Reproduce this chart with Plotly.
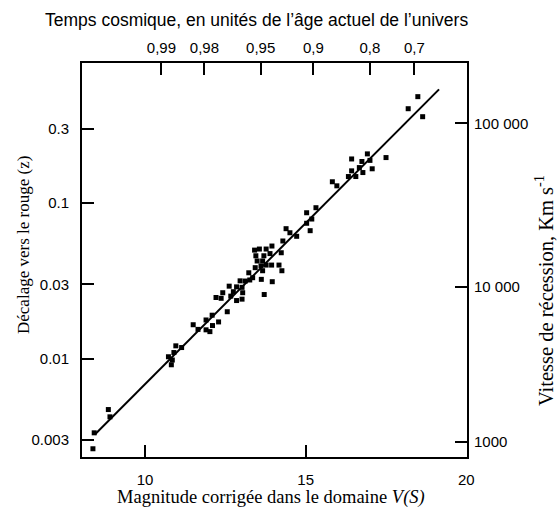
import plotly.graph_objects as go

# ---- data ----
magnitude = [18.49, 18.19, 18.64, 17.50, 16.92, 16.43, 16.75, 17.00, 16.43, 16.67,
             17.07, 16.78, 16.33, 16.56, 15.83, 15.97, 15.32, 15.03, 15.19, 15.03,
             15.14, 14.39, 14.51, 14.72, 14.29,
             13.41, 13.56, 13.77, 13.95, 13.45, 13.70, 13.89, 14.24, 13.49, 13.66,
             13.43, 13.61, 13.77, 13.94, 14.17, 14.26, 13.66, 13.23, 13.35, 13.62,
             13.26, 13.12, 12.96, 13.96, 12.85, 13.02, 12.62, 12.75, 12.42, 13.04,
             12.21, 12.37, 12.67, 12.85, 13.02, 13.71,
             12.56, 12.09, 11.90, 12.29, 11.50, 11.65, 12.10, 11.90, 12.02, 11.14,
             10.96, 10.90, 10.73, 10.85, 10.82, 8.91, 8.86, 8.42, 8.38]
redshift = [0.483, 0.404, 0.359, 0.196, 0.207, 0.192, 0.185, 0.188, 0.161, 0.169,
            0.166, 0.157, 0.148, 0.148, 0.137, 0.129, 0.0933, 0.0866, 0.0789, 0.0741,
            0.0664, 0.0684, 0.0644, 0.0611, 0.0570,
            0.0498, 0.0506, 0.0506, 0.0529, 0.0458, 0.0458, 0.0473, 0.0479, 0.0424, 0.0424,
            0.0384, 0.0394, 0.0399, 0.0399, 0.0399, 0.0367, 0.0367, 0.0356, 0.0331, 0.0323,
            0.0320, 0.0315, 0.0316, 0.0312, 0.0289, 0.0287, 0.0292, 0.0269, 0.0265, 0.0265,
            0.0247, 0.0244, 0.0252, 0.0236, 0.0241, 0.0258,
            0.0200, 0.0190, 0.0177, 0.0172, 0.0165, 0.0154, 0.0163, 0.0153, 0.0149, 0.01177,
            0.01207, 0.01093, 0.01027, 0.00978, 0.00912, 0.00422, 0.00470, 0.00333, 0.00263]

fit_magnitude = [8.44, 19.15]
fit_redshift = [0.00325, 0.538]

bottom_ticks = [10, 15, 20]
left_tick_values = [0.003, 0.01, 0.03, 0.1, 0.3]
left_tick_labels = ["0.003", "0.01", "0.03", "0.1", "0.3"]
top_tick_positions = [10.51, 11.85, 13.60, 15.24, 17.00, 18.38]
top_tick_labels = ["0,99", "0,98", "0,95", "0,9", "0,8", "0,7"]
right_tick_positions = [0.3255, 0.02894, 0.002917]
right_tick_labels = ["100 000", "10 000", "1000"]

x_range = [8.04, 20.02]
y_range_log = [-2.633, -0.0997]

# ---- figure ----
SANS = "Liberation Sans, Arial, sans-serif"
SERIF = "Liberation Serif, Times New Roman, serif"

fig = go.Figure()
fig.add_trace(go.Scatter(x=fit_magnitude, y=fit_redshift, mode="lines",
                         line=dict(color="black", width=2), showlegend=False,
                         hoverinfo="skip"))
fig.add_trace(go.Scatter(x=magnitude, y=redshift, mode="markers",
                         marker=dict(symbol="square", size=5, color="black"),
                         showlegend=False))
# invisible trace anchoring the secondary axes
fig.add_trace(go.Scatter(x=fit_magnitude, y=fit_redshift, xaxis="x2", yaxis="y2",
                         mode="markers", marker=dict(opacity=0), showlegend=False,
                         hoverinfo="skip"))

axis_common = dict(showgrid=False, zeroline=False, ticks="inside", ticklen=12,
                   tickwidth=2, tickcolor="black", automargin=False,
                   tickfont=dict(family=SANS, size=15, color="black"))

fig.update_layout(
    width=557, height=510,
    margin=dict(l=82, r=90, t=63, b=53),
    paper_bgcolor="white", plot_bgcolor="white",
    xaxis=dict(range=x_range, tickvals=bottom_ticks, showline=True, linewidth=2,
               linecolor="black", mirror=True, ticklabelstandoff=8, **axis_common),
    yaxis=dict(type="log", range=y_range_log, tickvals=left_tick_values,
               ticktext=left_tick_labels, showline=True, linewidth=2,
               linecolor="black", mirror=True, ticklabelstandoff=8, **axis_common),
    xaxis2=dict(overlaying="x", side="top", range=x_range,
                tickvals=top_tick_positions, ticktext=top_tick_labels,
                showline=False, ticklabelstandoff=6, **axis_common),
    yaxis2=dict(overlaying="y", side="right", type="log", range=y_range_log,
                tickvals=right_tick_positions, ticktext=right_tick_labels,
                showline=False, ticklabelstandoff=6, **axis_common),
)

def paper_x(px):
    return (px - 82) / 385

def paper_y(py):
    return (457 - py) / 394

annotations = [
    dict(text="Temps cosmique, en unités de l’âge actuel de l’univers",
         x=paper_x(256), y=paper_y(20), font=dict(family=SANS, size=17.5, color="black")),
    dict(text="Magnitude corrigée dans le domaine <i>V(S)</i>",
         x=paper_x(271), y=paper_y(498), font=dict(family=SERIF, size=18.5, color="black")),
    dict(text="Décalage vers le rouge (z)", textangle=-90,
         x=paper_x(23), y=paper_y(245), font=dict(family=SERIF, size=17, color="black")),
    dict(text="Vitesse de récession, Km s<sup>-1</sup>", textangle=-90,
         x=paper_x(544), y=paper_y(291), font=dict(family=SERIF, size=20.5, color="black")),
]
for a in annotations:
    fig.add_annotation(xref="paper", yref="paper", showarrow=False,
                       xanchor="center", yanchor="middle", **a)

fig.write_html("out.html", config={"displayModeBar": False},
               post_script="document.body.style.margin='0';")
